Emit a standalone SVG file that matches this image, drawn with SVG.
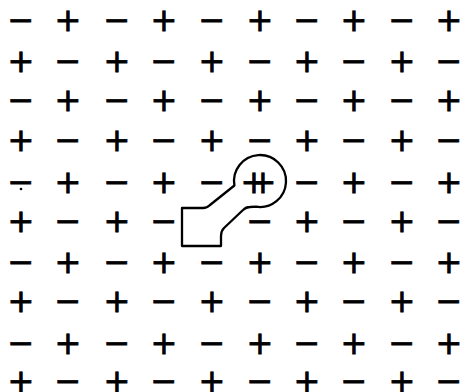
<svg xmlns="http://www.w3.org/2000/svg" width="460" height="392" viewBox="0 0 460 392">
<style>
.s{font-family:"DejaVu Sans",sans-serif;font-size:32px;text-anchor:middle;fill:#000;stroke:#000;stroke-width:0.8}
.k{fill:#fff;stroke:#000;stroke-width:2.3;stroke-linejoin:round}
</style>
<rect width="460" height="392" fill="#fff"/>
<g id="grid">
<text class="s" x="21" y="31.3">−</text><text class="s" x="68" y="31.3">+</text><text class="s" x="117" y="31.3">−</text><text class="s" x="164" y="31.3">+</text><text class="s" x="212" y="31.3">−</text><text class="s" x="260" y="31.3">+</text><text class="s" x="307" y="31.3">−</text><text class="s" x="354" y="31.3">+</text><text class="s" x="402" y="31.3">−</text><text class="s" x="449" y="31.3">+</text>
<text class="s" x="21" y="72.3">+</text><text class="s" x="68" y="72.3">−</text><text class="s" x="117" y="72.3">+</text><text class="s" x="164" y="72.3">−</text><text class="s" x="212" y="72.3">+</text><text class="s" x="260" y="72.3">−</text><text class="s" x="307" y="72.3">+</text><text class="s" x="354" y="72.3">−</text><text class="s" x="402" y="72.3">+</text><text class="s" x="449" y="72.3">−</text>
<text class="s" x="21" y="111.3">−</text><text class="s" x="68" y="111.3">+</text><text class="s" x="117" y="111.3">−</text><text class="s" x="164" y="111.3">+</text><text class="s" x="212" y="111.3">−</text><text class="s" x="260" y="111.3">+</text><text class="s" x="307" y="111.3">−</text><text class="s" x="354" y="111.3">+</text><text class="s" x="402" y="111.3">−</text><text class="s" x="449" y="111.3">+</text>
<text class="s" x="21" y="151.3">+</text><text class="s" x="68" y="151.3">−</text><text class="s" x="117" y="151.3">+</text><text class="s" x="164" y="151.3">−</text><text class="s" x="212" y="151.3">+</text><text class="s" x="260" y="151.3">−</text><text class="s" x="307" y="151.3">+</text><text class="s" x="354" y="151.3">−</text><text class="s" x="402" y="151.3">+</text><text class="s" x="449" y="151.3">−</text>
<text class="s" x="21" y="193.3">−</text><text class="s" x="68" y="193.3">+</text><text class="s" x="117" y="193.3">−</text><text class="s" x="164" y="193.3">+</text><text class="s" x="212" y="193.3">−</text><text class="s" x="307" y="193.3">−</text><text class="s" x="354" y="193.3">+</text><text class="s" x="402" y="193.3">−</text><text class="s" x="449" y="193.3">+</text>
<text class="s" x="21" y="232.3">+</text><text class="s" x="68" y="232.3">−</text><text class="s" x="117" y="232.3">+</text><text class="s" x="164" y="232.3">−</text><text class="s" x="260" y="232.3">−</text><text class="s" x="307" y="232.3">+</text><text class="s" x="354" y="232.3">−</text><text class="s" x="402" y="232.3">+</text><text class="s" x="449" y="232.3">−</text>
<text class="s" x="21" y="273.3">−</text><text class="s" x="68" y="273.3">+</text><text class="s" x="117" y="273.3">−</text><text class="s" x="164" y="273.3">+</text><text class="s" x="212" y="273.3">−</text><text class="s" x="260" y="273.3">+</text><text class="s" x="307" y="273.3">−</text><text class="s" x="354" y="273.3">+</text><text class="s" x="402" y="273.3">−</text><text class="s" x="449" y="273.3">+</text>
<text class="s" x="21" y="312.3">+</text><text class="s" x="68" y="312.3">−</text><text class="s" x="117" y="312.3">+</text><text class="s" x="164" y="312.3">−</text><text class="s" x="212" y="312.3">+</text><text class="s" x="260" y="312.3">−</text><text class="s" x="307" y="312.3">+</text><text class="s" x="354" y="312.3">−</text><text class="s" x="402" y="312.3">+</text><text class="s" x="449" y="312.3">−</text>
<text class="s" x="21" y="354.3">−</text><text class="s" x="68" y="354.3">+</text><text class="s" x="117" y="354.3">−</text><text class="s" x="164" y="354.3">+</text><text class="s" x="212" y="354.3">−</text><text class="s" x="260" y="354.3">+</text><text class="s" x="307" y="354.3">−</text><text class="s" x="354" y="354.3">+</text><text class="s" x="402" y="354.3">−</text><text class="s" x="449" y="354.3">+</text>
<text class="s" x="21" y="392">+</text><text class="s" x="68" y="392">−</text><text class="s" x="117" y="392">+</text><text class="s" x="164" y="392">−</text><text class="s" x="212" y="392">+</text><text class="s" x="260" y="392">−</text><text class="s" x="307" y="392">+</text><text class="s" x="354" y="392">−</text><text class="s" x="402" y="392">+</text><text class="s" x="449" y="392">−</text>
<circle cx="21" cy="189" r="1.3" fill="#000"/>
</g>
<g id="keyhole">
<path class="k" d="M234.4,185.5 A26,26 0 1 1 256,206.7 L250,207 Q246,207 243,210 L224,228 Q221,231 221,236 L221,246 L182,246 L182,208 L203,208 Q207,208 210,205 Z"/>
<text class="s" x="240.6" y="193.3" letter-spacing="-18" style="text-anchor:start">++</text>
</g>
</svg>
